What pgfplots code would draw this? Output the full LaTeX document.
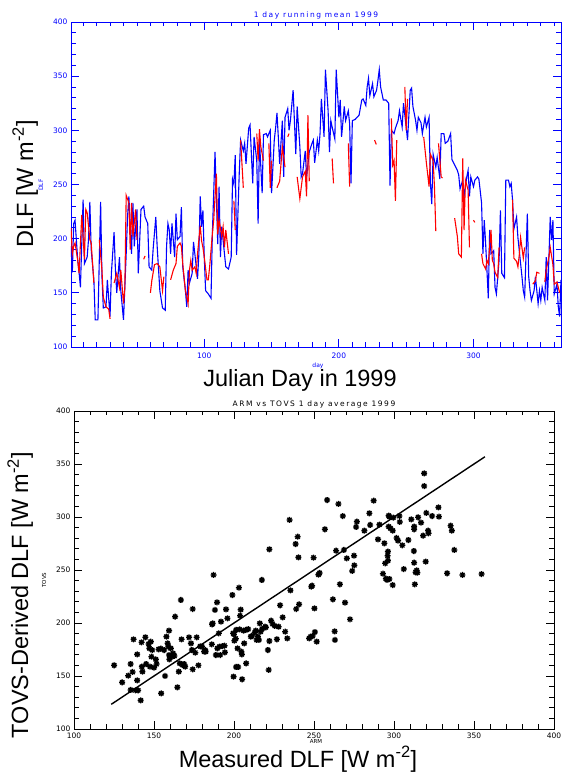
\documentclass[border=0pt]{standalone}
\usepackage{fontspec}
\setmainfont{Liberation Sans}
\newfontfamily\tickfont{DejaVu Sans}
\newfontfamily\titlefont{DejaVu Sans}[LetterSpace=20]
\usepackage{pgfplots}
\usepackage{pgfplotstable}
\pgfplotsset{compat=1.18}

\pgfdeclareplotmark{idlstar}{%
  \pgfpathmoveto{\pgfqpoint{-\pgfplotmarksize}{0pt}}\pgfpathlineto{\pgfqpoint{\pgfplotmarksize}{0pt}}%
  \pgfpathmoveto{\pgfqpoint{0pt}{-\pgfplotmarksize}}\pgfpathlineto{\pgfqpoint{0pt}{\pgfplotmarksize}}%
  \pgfpathmoveto{\pgfqpoint{-0.707\pgfplotmarksize}{-0.707\pgfplotmarksize}}\pgfpathlineto{\pgfqpoint{0.707\pgfplotmarksize}{0.707\pgfplotmarksize}}%
  \pgfpathmoveto{\pgfqpoint{-0.707\pgfplotmarksize}{0.707\pgfplotmarksize}}\pgfpathlineto{\pgfqpoint{0.707\pgfplotmarksize}{-0.707\pgfplotmarksize}}%
  \pgfusepathqstroke}

\pgfplotstableread{
day val
1 193
2 169
3 214
4 217
6 180
7 169
8 155
10 236
11 177
13 183
14 199
15 234
16 190
18 162
19 125
21 125
23 234
24 165
25 136
27 137
28 162
30 128
31 168
33 206
34 171
35 150
37 183
38 152
40 125
42 186
43 220
44 239
46 186
47 233
48 193
50 227
51 168
53 227
55 230
56 220
58 214
59 174
61 171
62 190
64 220
65 193
67 152
69 136
71 134
72 193
73 214
74 208
75 186
76 214
78 183
79 223
80 199
82 202
83 229
84 174
86 152
87 137
88 171
89 159
91 168
92 197
93 186
95 163
96 186
97 239
98 211
99 226
100 183
101 152
103 149
105 145
106 204
108 280
110 195
111 248
112 183
113 211
115 186
116 174
118 172
120 183
121 255
122 250
123 277
124 185
126 261
127 291
129 281
130 288
131 269
133 302
134 305
136 251
137 294
139 272
140 214
141 291
143 242
144 296
146 297
147 294
149 300
150 242
152 291
153 302
154 316
155 294
156 269
158 309
159 257
160 312
162 320
163 300
164 309
166 337
168 278
169 322
171 285
172 257
173 260
175 281
176 257
178 280
180 288
181 291
182 270
184 291
185 281
186 297
187 329
189 294
190 356
192 318
193 280
194 309
195 303
197 292
198 356
200 312
201 328
202 294
204 322
205 309
207 318
208 306
209 251
210 309
212 310
215 314
217 328
218 329
220 323
221 340
222 348
223 332
225 343
226 331
228 337
229 346
230 356
231 340
233 328
235 328
237 325
238 249
239 300
241 297
242 302
244 309
245 318
247 303
248 325
250 303
251 291
253 337
254 339
255 322
257 309
258 300
259 312
261 307
262 297
264 312
265 303
267 312
268 251
269 232
270 278
272 266
273 275
275 255
276 297
278 297
279 288
281 290
283 297
284 273
286 268
288 263
289 259
290 246
292 254
293 239
295 257
296 263
297 239
298 257
300 248
301 254
303 257
304 255
306 233
307 186
308 217
309 196
311 145
312 208
313 186
315 189
316 155
317 149
319 180
320 226
321 168
323 164
324 254
326 254
327 248
328 251
329 236
330 209
332 220
333 201
335 177
336 165
337 152
338 146
340 223
341 165
342 152
343 143
345 152
346 165
348 140
349 152
350 143
351 155
353 143
354 183
355 143
357 220
358 199
359 217
360 149
362 158
363 137
364 128
365 162
}\bluedata

\pgfplotstableread{
day val
1 210
2 186
3 193
4 196
6 180
7 168
9 222
11 181
12 227
13 224
15 199
16 196
18 159
19 nan
22 199
24 171
25 146
27 137
29 135
30 126
31 nan
33 159
35 168
37 155
38 171
40 140
41 155
42 240
44 233
45 190
46 233
47 202
49 227
50 199
51 nan
55 181
56 184
57 nan
60 150
61 161
63 176
65 177
67 174
69 152
70 165
71 nan
75 162
77 171
79 177
80 193
82 196
83 193
84 177
86 152
88 140
89 171
90 180
91 171
93 174
94 168
95 186
97 212
98 198
99 192
100 183
102 162
103 162
104 174
106 204
107 217
109 260
110 204
111 217
113 202
114 211
115 192
116 208
118 186
119 nan
122 235
123 208
124 nan
127 291
128 269
129 247
130 nan
139 297
140 272
141 301
142 285
144 272
145 nan
148 288
149 247
150 272
151 nan
154 247
156 253
158 285
160 266
161 nan
162 294
163 297
164 nan
169 257
171 237
173 257
175 262
176 239
177 314
178 253
179 nan
195 274
196 251
197 nan
207 288
208 248
209 nan
226.5 291
227.8 287
228 nan
239 311
240 268
241 272
242 235
243 291
244 nan
249 340
250 300
251 329
252 nan
263 294
265 270
267 248
268 278
270 272
271 248
272 207
273 nan
274 288
276 257
277 256
278 nan
286 219
288 202
289 186
291 183
292 274
293 208
294 254
296 245
297 192
298 nan
300 217
301 215
302 nan
306 186
307 177
309 172
310 180
311 177
313 208
314 180
315 177
316 169
318 164
319 192
320 nan
329 236
330 182
332 179
333 174
334 185
335 201
337 182
338 192
339 nan
344 158
346 161
347 169
349 168
350 nan
353 160
354 171
356 183
357 192
359 176
360 158
362 160
364 150
}\reddata

\pgfplotstableread{
arm tovs
125.1 160.1
130.1 144.0
133.9 150.3
135.4 161.3
137.2 184.6
136.6 153.8
135.4 136.8
138.4 136.5
139.5 170.4
139.5 145.9
140.1 136.5
141.7 127.0
142.2 181.8
142.8 154.1
142.4 158.8
144.6 186.5
145.1 161.3
146.6 180.2
147.1 176.1
147.5 158.8
148.0 182.4
148.4 168.2
148.9 174.5
150.0 157.9
151.1 165.7
151.6 161.3
152.9 175.2
154.3 175.8
154.5 133.6
156.3 174.5
156.9 150.0
157.8 187.1
158.5 180.8
159.0 177.7
159.4 192.8
159.4 169.8
159.6 165.7
160.5 176.1
161.2 168.2
161.9 171.4
162.8 168.9
163.2 206.0
164.6 139.3
165.5 154.1
166.1 161.9
166.8 221.7
167.2 184.6
167.9 160.4
168.8 161.3
169.5 158.8
171.9 186.5
173.1 180.8
173.7 174.5
174.2 213.2
174.2 156.3
175.8 172.0
176.7 186.5
177.8 160.1
178.9 178.0
180.0 177.7
181.4 173.0
182.0 174.5
182.3 173.0
186.1 179.9
186.3 198.7
186.7 199.7
187.2 245.3
188.1 212.3
188.7 169.8
189.4 219.5
189.6 176.1
190.5 190.3
191.0 177.7
191.4 169.8
191.9 201.3
193.0 178.3
194.1 178.6
194.3 172.3
195.0 212.9
195.9 204.4
199.0 226.4
199.5 190.3
199.9 189.3
200.2 183.3
201.1 185.2
201.3 193.4
199.7 149.4
201.3 158.5
202.2 176.1
202.6 158.5
203.1 233.3
203.8 206.9
204.2 212.6
203.5 194.0
204.6 173.0
204.9 170.4
205.1 146.9
206.0 192.8
206.4 180.8
207.3 193.4
207.6 161.9
208.9 194.3
210.5 187.1
211.1 187.7
212.9 190.9
213.6 192.8
214.1 184.0
214.9 187.1
215.6 184.0
216.1 199.7
216.7 191.8
217.4 240.6
217.6 194.3
219.4 196.5
219.9 195.9
221.2 174.5
221.7 155.7
222.1 269.5
222.1 183.0
223.2 202.2
224.1 199.1
225.5 197.2
226.8 184.6
227.9 196.5
228.8 216.7
230.4 205.3
232.0 191.8
233.3 185.5
234.7 297.2
235.3 230.8
238.5 274.5
238.9 213.2
239.8 281.4
240.3 261.9
240.7 217.6
247.0 185.5
247.9 187.1
248.3 234.3
248.8 235.2
249.2 187.7
249.7 261.6
250.3 213.8
250.6 191.5
251.7 182.4
252.8 245.6
253.5 247.2
256.8 288.4
258.2 316.0
261.8 222.3
262.9 192.1
263.1 184.0
263.8 268.2
265.3 312.3
266.2 236.5
268.0 300.9
268.7 268.9
269.4 219.2
270.5 261.0
272.5 203.5
273.9 249.1
275.0 263.5
275.2 254.4
276.3 290.6
276.8 295.6
281.5 287.1
284.6 303.5
285.1 292.5
287.3 315.4
290.0 278.9
290.9 292.8
293.1 246.5
294.0 275.2
294.5 256.3
294.9 241.8
295.6 240.6
296.0 263.5
296.2 267.3
296.2 258.8
296.7 301.3
296.7 290.9
297.1 241.5
297.1 300.3
297.8 289.3
299.2 235.8
299.2 287.1
299.6 299.4
301.6 280.2
302.5 277.7
303.4 300.9
303.6 295.3
305.2 273.3
306.1 250.9
309.0 278.3
310.8 297.8
312.4 267.9
312.6 290.9
312.6 288.4
312.6 256.9
313.0 236.5
313.5 247.8
314.2 249.7
314.6 247.5
315.1 299.7
316.9 294.7
318.2 282.4
318.9 341.2
318.9 329.2
319.8 257.9
320.2 303.8
321.3 287.1
321.6 284.6
323.8 300.9
327.8 309.1
328.1 300.3
333.2 246.9
335.4 291.8
336.1 287.1
337.7 268.9
342.8 245.3
354.7 246.2
}\scatterdata

\pgfplotsset{
  idlaxis/.style={
    scale only axis, anchor=south west,
    tick align=inside, major tick length=8pt, minor tick length=4.5pt,
    xtick pos=both, ytick pos=both, xticklabel pos=lower, yticklabel pos=left,
    /pgf/number format/assume math mode=true,
    tick label style={font=\tickfont\fontsize{7.5}{8}\selectfont},
  }
}

\begin{document}
\begin{tikzpicture}[x=1pt,y=1pt]
\path[use as bounding box] (0,0) rectangle (563,772);

\begin{axis}[idlaxis,
  at={(71pt,425pt)}, width=490pt, height=325pt,
  xmin=1, xmax=365, ymin=100, ymax=400,
  xtick={100,200,300}, minor xtick={10,20,...,360},
  ytick={100,150,...,400}, minor ytick={110,120,...,390},
  axis line style={blue, line width=0.9pt},
  every tick/.style={blue, line width=0.8pt},
  tick label style={text=blue},
  xticklabel style={yshift=-2pt},
  unbounded coords=jump,
]
\addplot[blue, line width=1.1pt] table[x=day, y=val] {\bluedata};
\addplot[red, line width=1.1pt] table[x=day, y=val] {\reddata};
\end{axis}

\begin{axis}[idlaxis,
  at={(74pt,43pt)}, width=480pt, height=318pt,
  xmin=100, xmax=400, ymin=100, ymax=400,
  xtick={100,150,...,400}, minor xtick={110,120,...,390},
  ytick={100,150,...,400}, minor ytick={110,120,...,390},
  axis line style={black, line width=0.8pt},
  every tick/.style={black, line width=0.8pt},
]
\addplot[only marks, mark=idlstar, mark size=3pt, black, line width=1.35pt] table[x=arm, y=tovs] {\scatterdata};
\addplot[black, line width=1.4pt] coordinates {(123.3,123.3) (356.8,356.8)};
\end{axis}

% titles and labels
\node[blue, font=\titlefont\fontsize{7.5}{8}\selectfont] at (316,757) {1 day running mean 1999};
\node[blue, font=\tickfont\fontsize{6}{7}\selectfont] at (318,406) {day};
\node[anchor=base, font=\fontsize{23.5}{26}\selectfont] at (300,385) {Julian Day in 1999};
\node[anchor=base, rotate=90, font=\fontsize{23.5}{26}\selectfont] at (33,588) {DLF [W m\textsuperscript{-2}]};
\node[blue, rotate=90, font=\tickfont\fontsize{6}{7}\selectfont] at (41,587) {DLF};

\node[font=\titlefont\fontsize{7.5}{8}\selectfont] at (314,368) {ARM vs TOVS 1 day average 1999};
\node[font=\tickfont\fontsize{5.5}{6}\selectfont] at (316,30.5) {ARM};
\node[anchor=base, font=\fontsize{23.5}{26}\selectfont] at (298,5) {Measured DLF [W m\textsuperscript{-2}]};
\node[anchor=base, rotate=90, font=\fontsize{23.5}{26}\selectfont] at (28,177) {TOVS-Derived DLF [W m\textsuperscript{-2}]};
\node[rotate=90, font=\tickfont\fontsize{5.5}{6}\selectfont] at (44,192) {TOVS};
\end{tikzpicture}
\end{document}
